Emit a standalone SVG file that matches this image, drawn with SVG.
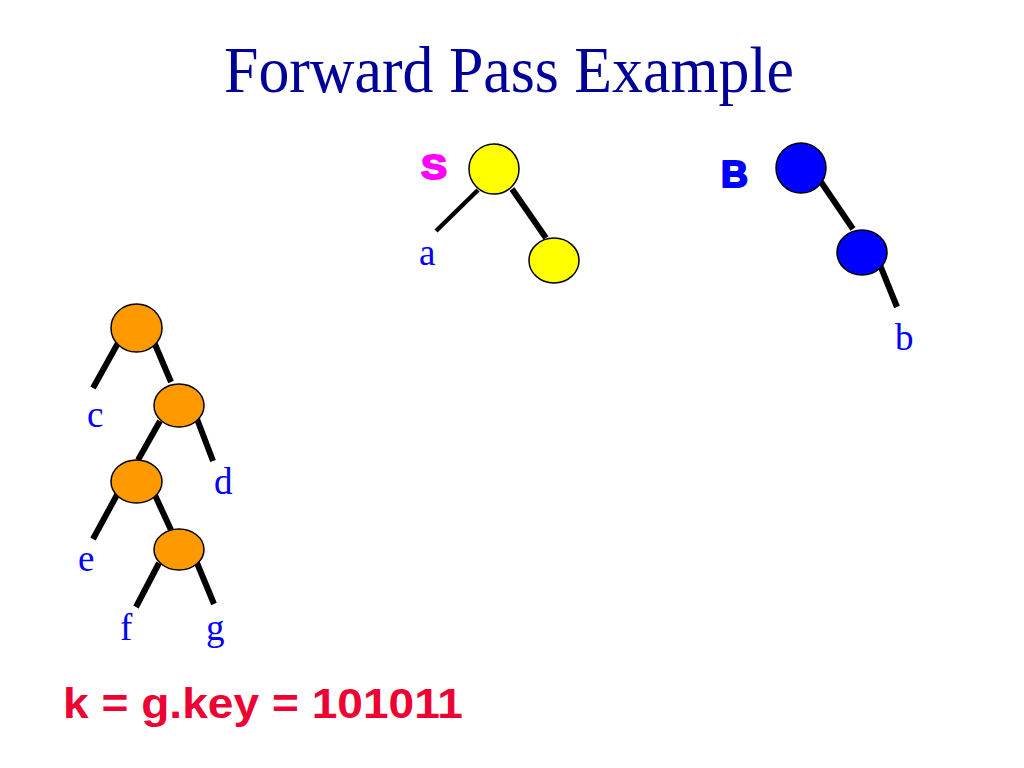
<svg xmlns="http://www.w3.org/2000/svg" width="1024" height="768" viewBox="0 0 1024 768">
<style>
.lbl{font-family:"Liberation Serif","Times New Roman",serif;font-size:37px;fill:#0000FF}
.edge{stroke:#000;stroke-width:6;stroke-linecap:butt;fill:none}
.thin{stroke-width:4.5}
.nd{stroke:#000;stroke-width:1.5}
.or{fill:#FF9900}
.ye{fill:#FFFF00}
.bl{fill:#0000FF}
.heavy{font-family:"Liberation Sans",Arial,sans-serif;font-weight:bold;stroke-width:2;stroke-linejoin:round}
</style>
<rect width="1024" height="768" fill="#fff"/>
<text x="509" y="92" text-anchor="middle" font-family="'Liberation Serif','Times New Roman',serif" font-size="65" fill="#000099" textLength="570" lengthAdjust="spacingAndGlyphs">Forward Pass Example</text>
<g id="connectors">
<line class="edge thin" x1="478" y1="190" x2="436" y2="231"/>
<line class="edge" x1="512" y1="189" x2="546" y2="238"/>
<line class="edge" x1="821" y1="182" x2="853" y2="229"/>
<line class="edge" x1="880" y1="265" x2="897" y2="307"/>
<line class="edge" x1="118" y1="343" x2="93" y2="388"/>
<line class="edge" x1="154" y1="342" x2="171" y2="382"/>
<line class="edge" x1="197" y1="419" x2="213" y2="461"/>
<line class="edge" x1="160" y1="421" x2="138" y2="460"/>
<line class="edge" x1="118" y1="493" x2="93" y2="539"/>
<line class="edge" x1="154" y1="493" x2="171" y2="530"/>
<line class="edge" x1="159" y1="563" x2="136" y2="607"/>
<line class="edge" x1="197" y1="563" x2="214" y2="604"/>
</g>
<g id="S">
<text class="heavy" x="421" y="179" font-size="35" fill="#FF00FF" stroke="#FF00FF" textLength="26" lengthAdjust="spacingAndGlyphs">S</text>
<ellipse class="nd ye" cx="494" cy="169" rx="25" ry="25"/>
</g>
<g id="S-right"><ellipse class="nd ye" cx="554" cy="260.5" rx="25" ry="22.5"/></g>
<g id="B">
<text class="heavy" x="721" y="187" font-size="36" fill="#0000FF" stroke="#0000FF" textLength="27" lengthAdjust="spacingAndGlyphs">B</text>
<ellipse class="nd bl" cx="801" cy="168" rx="25" ry="25"/>
</g>
<g id="B-right"><ellipse class="nd bl" cx="862" cy="252.5" rx="25" ry="22.5"/></g>
<g id="o1"><ellipse class="nd or" cx="136.5" cy="328" rx="25.5" ry="24"/></g>
<g id="o2"><ellipse class="nd or" cx="179" cy="405.5" rx="25" ry="21.5"/></g>
<g id="o3"><ellipse class="nd or" cx="136.5" cy="481.5" rx="25.5" ry="21.5"/></g>
<g id="o4"><ellipse class="nd or" cx="179" cy="549.5" rx="25" ry="20.5"/></g>
<g id="labels">
<text class="lbl" x="419" y="265">a</text>
<text class="lbl" x="895" y="350">b</text>
<text class="lbl" x="87" y="427">c</text>
<text class="lbl" x="214" y="494">d</text>
<text class="lbl" x="78" y="571">e</text>
<text class="lbl" x="120" y="640">f</text>
<text class="lbl" x="206" y="640">g</text>
</g>
<text x="63" y="718" font-family="'Liberation Sans',Arial,sans-serif" font-weight="bold" font-size="42" fill="#EE0033" textLength="400" lengthAdjust="spacingAndGlyphs">k = g.key = 101011</text>
</svg>
